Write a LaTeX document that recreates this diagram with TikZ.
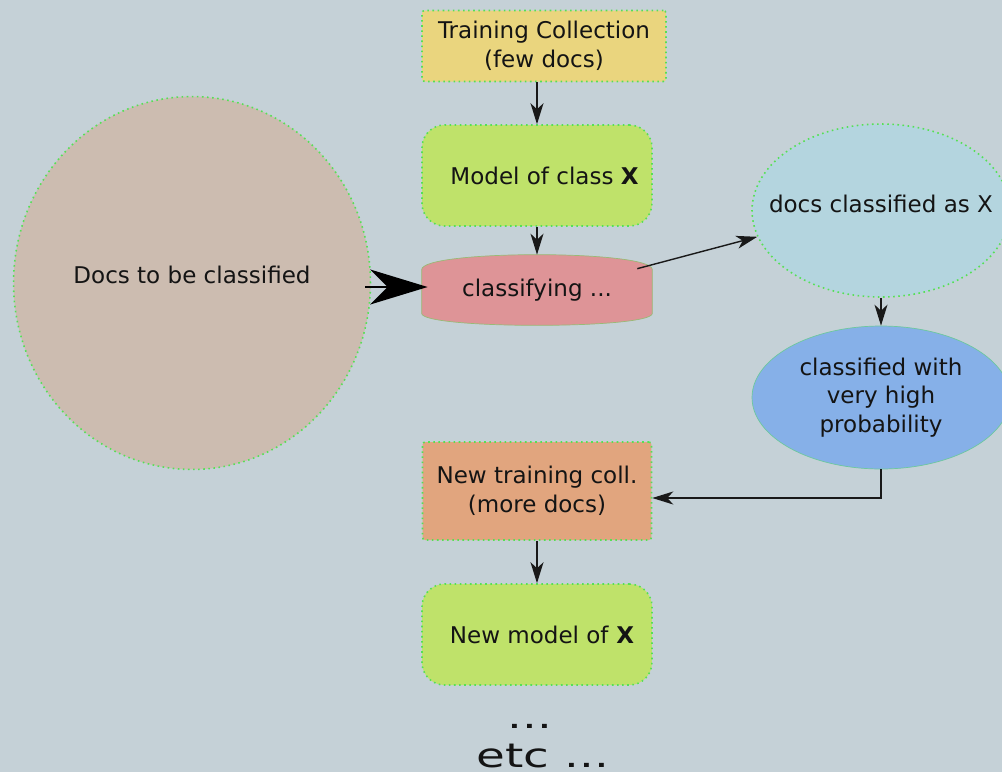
\documentclass[tikz,border=0pt]{standalone}
\usepackage{fontspec}
\setmainfont{DejaVu Sans}
\usetikzlibrary{shapes.geometric,arrows.meta,backgrounds,calc}
\definecolor{bgcol}{HTML}{C5D1D7}
\definecolor{yellowcol}{HTML}{EAD57E}
\definecolor{greencol}{HTML}{BFE26A}
\definecolor{pinkcol}{HTML}{DE9497}
\definecolor{beigecol}{HTML}{CCBCB0}
\definecolor{lbluecol}{HTML}{B4D5DF}
\definecolor{bluecol}{HTML}{86B0E8}
\definecolor{orangecol}{HTML}{E1A57E}
\definecolor{edgecol}{HTML}{55E055}
\tikzset{
  dotedge/.style={draw=edgecol, dotted, line width=0.9pt},
  collbox/.style={dotedge, rounded corners=1.5pt, align=center},
  modelbox/.style={dotedge, fill=greencol, rounded corners=0.45cm, minimum width=4.6cm, minimum height=2.02cm},
  bigtext/.style={font=\fontsize{19}{22}\selectfont, xscale=1.4, anchor=base, inner sep=0pt},
  flow/.style={-{Stealth[length=0.42cm,width=0.26cm,inset=0.12cm]}, line width=0.8pt, black!90},
  bigflow/.style={-{Stealth[length=1.15cm,width=0.7cm,inset=0.35cm]}, line width=1.3pt}
}

\begin{document}
\begin{tikzpicture}[x=0.02cm, y=-0.02cm, font=\fontsize{13.1}{16.4}\selectfont, text=black!92]
\useasboundingbox (0,0) rectangle (1002,772);
\begin{scope}[on background layer]
\fill[bgcol] (0,0) rectangle (1002,772);
\end{scope}

\node[collbox, fill=yellowcol, minimum width=4.88cm, minimum height=1.42cm] (train) at (544,46) {Training Collection\\(few docs)};
\node[modelbox] (model) at (537,175.5) {\hspace*{0.3cm}Model of class \textbf{X}};
\node[minimum width=4.6cm, minimum height=1.4cm] (classify) at (537,290) {classifying ...};
\begin{scope}[on background layer]
\draw[fill=pinkcol, draw=edgecol!50!pinkcol, line width=0.4pt]
  ([yshift=-0.3cm]classify.north west) .. controls ([yshift=0.1cm]classify.north west) and ([yshift=0.1cm]classify.north east) .. ([yshift=-0.3cm]classify.north east)
  -- ([yshift=0.24cm]classify.south east) .. controls ([yshift=-0.08cm]classify.south east) and ([yshift=-0.08cm]classify.south west) .. ([yshift=0.24cm]classify.south west)
  -- cycle;
\end{scope}
\node[ellipse, dotedge, fill=beigecol, minimum width=7.14cm, minimum height=7.46cm,
  label={[yshift=0.16cm]center:Docs to be classified}] (docs) at (192,283) {};
\node[ellipse, dotedge, fill=lbluecol, minimum width=5.16cm, minimum height=3.46cm,
  label={[yshift=0.14cm]center:docs classified as X}] (asx) at (881,210.5) {};
\node[ellipse, draw=edgecol!50!bluecol, line width=0.4pt, fill=bluecol, minimum width=5.16cm, minimum height=2.86cm,
  label={[align=center]center:classified with\\very high\\probability}] (high) at (881,397.5) {};
\node[collbox, fill=orangecol, minimum width=4.58cm, minimum height=1.96cm] (newcoll) at (537,491) {New training coll.\\(more docs)};
\node[modelbox] (newmodel) at (537,634.5) {\hspace*{0.2cm}New model of \textbf{X}};
\node[bigtext] (dots) at (530,728) {...};
\node[bigtext] (etc) at (543,767) {etc ...};

\coordinate (cstart) at ([shift={(-0.3cm,-0.28cm)}]classify.north east);
\coordinate (bigstart) at ([shift={(-0.12cm,-0.08cm)}]docs.east);
\draw[flow] (train.south -| model.north) -- (model.north);
\draw[flow] (model) -- (classify);
\draw[flow] (cstart) -- (asx.192);
\draw[bigflow] (bigstart) -- ($(bigstart -| classify.west)+(0.12cm,0)$);
\draw[flow] (asx) -- (high);
\draw[flow] (high.south) |- ([yshift=-0.14cm]newcoll.east);
\draw[flow] (newcoll) -- (newmodel);
\end{tikzpicture}
\end{document}
